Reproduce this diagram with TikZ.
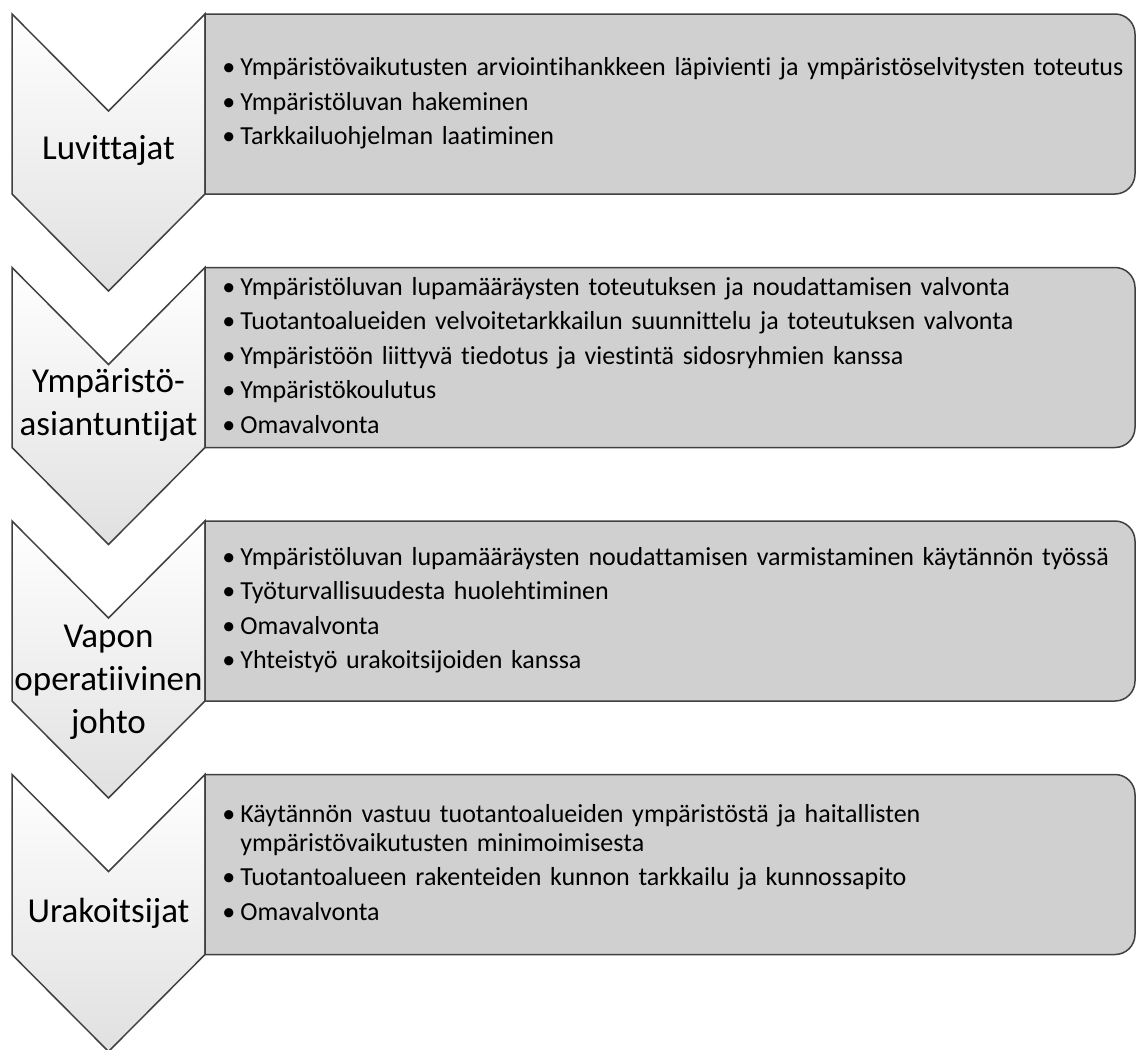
\documentclass[tikz,border=0pt]{standalone}
\usepackage{fontspec}
\setmainfont{Carlito}[Ligatures=NoCommon]
\usetikzlibrary{positioning}
\definecolor{reuna}{HTML}{404040}
\definecolor{harmaa}{HTML}{D0D0D0}
\newcommand{\kohta}[1]{\par\setlength{\parskip}{2.75pt}\hangindent=9pt\hangafter=1\noindent\makebox[9pt][l]{\textbullet}#1}

\begin{document}
\begin{tikzpicture}[x=0.5pt,y=-0.5pt,
  nuoli/.style={draw=reuna,line width=0.75pt,top color=white,bottom color=black!12},
  laatikko/.style={draw=reuna,line width=0.75pt,fill=harmaa},
  otsikko/.style={align=center,inner sep=0pt,font=\fontsize{17.5}{21.4}\selectfont},
  lista/.style={anchor=west,text width=456pt,align=left,inner sep=0pt,font=\fontsize{13}{14.5}\selectfont}]
  \useasboundingbox (0,0) rectangle (1136,1050);

  % chevrons and boxes
  \foreach \t in {14,267.5,521,774.5} {
    \draw[nuoli] (12,\t) -- (108.5,\t+97) -- (205,\t) -- (205,\t+180)
      -- (108.5,\t+277) -- (12,\t+180) -- cycle;
    \draw[laatikko] (205,\t+180) -- (205,\t) [rounded corners=10pt] -- (1135,\t)
      -- (1135,\t+180) [sharp corners] -- cycle;
  }

  \node[otsikko] (luv) at (108.5,150) {Luvittajat};
  \node[otsikko] (ymp) at (108.5,405) {Ympäristö-\\asiantuntijat};
  \node[otsikko] (vap) at (108.5,682) {Vapon\\operatiivinen\\johto};
  \node[otsikko] (ura) at (108.5,913) {Urakoitsijat};

  \node[lista] (luvlista) at (222,95) {%
    \kohta{Ympäristövaikutusten arviointihankkeen läpivienti ja ympäristöselvitysten toteutus}
    \kohta{Ympäristöluvan hakeminen}
    \kohta{Tarkkailuohjelman laatiminen}};
  \node[lista] (ymplista) at (222,347) {%
    \kohta{Ympäristöluvan lupamääräysten toteutuksen ja noudattamisen valvonta}
    \kohta{Tuotantoalueiden velvoitetarkkailun suunnittelu ja toteutuksen valvonta}
    \kohta{Ympäristöön liittyvä tiedotus ja viestintä sidosryhmien kanssa}
    \kohta{Ympäristökoulutus}
    \kohta{Omavalvonta}};
  \node[lista] (vaplista) at (222,602) {%
    \kohta{Ympäristöluvan lupamääräysten noudattamisen varmistaminen käytännön työssä}
    \kohta{Työturvallisuudesta huolehtiminen}
    \kohta{Omavalvonta}
    \kohta{Yhteistyö urakoitsijoiden kanssa}};
  \node[lista] (uralista) at (222,854) {%
    \kohta{Käytännön vastuu tuotantoalueiden ympäristöstä ja haitallisten\newline ympäristövaikutusten minimoimisesta}
    \kohta{Tuotantoalueen rakenteiden kunnon tarkkailu ja kunnossapito}
    \kohta{Omavalvonta}};
\end{tikzpicture}
\end{document}
